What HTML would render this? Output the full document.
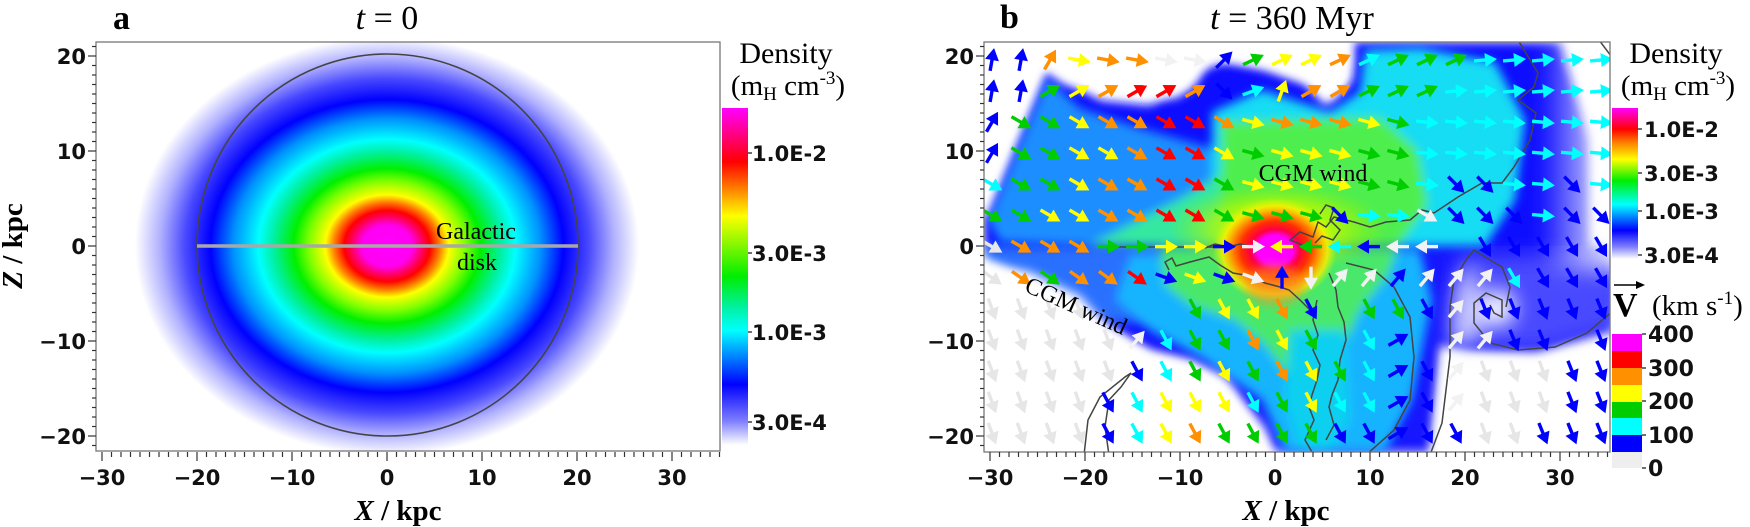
<!DOCTYPE html>
<html><head><meta charset="utf-8">
<style>
html,body{margin:0;padding:0;background:#fff;}
svg{display:block;}
.tl{font-family:"DejaVu Sans","Liberation Sans",sans-serif;font-weight:bold;font-size:21px;fill:#111;}
.sf{font-family:"Liberation Serif",serif;fill:#000;}
</style></head>
<body>
<svg id="s" width="1750" height="527" viewBox="0 0 1750 527" xmlns="http://www.w3.org/2000/svg">
<defs>
 <radialGradient id="ga" gradientUnits="userSpaceOnUse" cx="387" cy="246" r="252" gradientTransform="translate(387 246) scale(1 0.83) translate(-387 -246)">
  <stop offset="0" stop-color="#ff00ff"/><stop offset="0.1" stop-color="#ff00f0"/>
  <stop offset="0.14" stop-color="#ff0060"/><stop offset="0.17" stop-color="#ff0000"/>
  <stop offset="0.21" stop-color="#ff8000"/><stop offset="0.245" stop-color="#ffff00"/>
  <stop offset="0.31" stop-color="#80ff00"/><stop offset="0.37" stop-color="#00f000"/>
  <stop offset="0.45" stop-color="#00f0a0"/><stop offset="0.51" stop-color="#00ffff"/>
  <stop offset="0.61" stop-color="#0090ff"/><stop offset="0.7" stop-color="#0000ff"/>
  <stop offset="0.8" stop-color="#4848ff"/><stop offset="0.9" stop-color="#b0b0ff"/>
  <stop offset="1" stop-color="#ffffff"/>
 </radialGradient>
 <linearGradient id="cba" x1="0" y1="0" x2="0" y2="1">
  <stop offset="0" stop-color="#ff00ff"/><stop offset="0.08" stop-color="#ff0080"/>
  <stop offset="0.16" stop-color="#ff0000"/><stop offset="0.24" stop-color="#ff8000"/>
  <stop offset="0.32" stop-color="#ffff00"/><stop offset="0.5" stop-color="#00ee00"/>
  <stop offset="0.59" stop-color="#00f0a0"/><stop offset="0.66" stop-color="#00ffff"/>
  <stop offset="0.82" stop-color="#0000ff"/><stop offset="0.93" stop-color="#8080ff"/>
  <stop offset="1" stop-color="#ffffff"/>
 </linearGradient>
 <linearGradient id="cbb" x1="0" y1="0" x2="0" y2="1">
  <stop offset="0" stop-color="#ff00ff"/><stop offset="0.14" stop-color="#ff0000"/>
  <stop offset="0.23" stop-color="#ff8000"/><stop offset="0.34" stop-color="#ffff00"/>
  <stop offset="0.48" stop-color="#00ee00"/><stop offset="0.64" stop-color="#00ffff"/>
  <stop offset="0.81" stop-color="#0000ff"/><stop offset="0.92" stop-color="#8080ff"/>
  <stop offset="1" stop-color="#ffffff"/>
 </linearGradient>
 <linearGradient id="fadeR" x1="0" y1="0" x2="1" y2="0">
  <stop offset="0" stop-color="#fff" stop-opacity="0"/><stop offset="0.5" stop-color="#fff" stop-opacity="0.6"/>
  <stop offset="1" stop-color="#fff" stop-opacity="1"/>
 </linearGradient>
 <radialGradient id="core" cx="0.5" cy="0.5" r="0.5">
  <stop offset="0" stop-color="#ff00ff"/><stop offset="0.28" stop-color="#ff00ff"/>
  <stop offset="0.4" stop-color="#ff0040"/><stop offset="0.55" stop-color="#ff3000"/>
  <stop offset="0.7" stop-color="#ff9000"/><stop offset="0.85" stop-color="#ffee00" stop-opacity="0.8"/>
  <stop offset="1" stop-color="#d0ff00" stop-opacity="0"/>
 </radialGradient>
 <radialGradient id="yl" cx="0.5" cy="0.5" r="0.5">
  <stop offset="0" stop-color="#e8ff00"/><stop offset="0.6" stop-color="#b8f800" stop-opacity="0.7"/>
  <stop offset="1" stop-color="#90f000" stop-opacity="0"/>
 </radialGradient>
 <filter id="bl" x="-20%" y="-20%" width="140%" height="140%"><feGaussianBlur stdDeviation="5"/></filter>
 <filter id="bl2" x="-30%" y="-30%" width="160%" height="160%"><feGaussianBlur stdDeviation="10"/></filter>
 <clipPath id="ca"><rect x="96" y="42" width="624" height="409"/></clipPath>
 <clipPath id="cb"><rect x="984" y="42" width="626" height="410"/></clipPath>
</defs>

<!-- Panel a -->
<g clip-path="url(#ca)">
 <rect x="96" y="42" width="624" height="409" fill="url(#ga)"/>
 <ellipse cx="387.5" cy="245" rx="190.5" ry="191" fill="none" stroke="#444" stroke-width="1.6"/>
 <line x1="197" y1="246" x2="578" y2="246" stroke="#a8a8a8" stroke-width="3.5"/>
</g>
<rect x="96" y="42" width="624" height="409" fill="none" stroke="#777" stroke-width="1.3"/>
<text class="sf" x="476" y="239" font-size="24" text-anchor="middle">Galactic</text>
<text class="sf" x="477" y="270" font-size="24" text-anchor="middle">disk</text>

<text class="sf" x="113" y="29" font-size="34" font-weight="bold">a</text>
<text class="sf" x="387" y="29" font-size="34" text-anchor="middle"><tspan font-style="italic">t</tspan> = 0</text>
<text class="sf" x="398" y="520" font-size="29" font-weight="bold" text-anchor="middle"><tspan font-style="italic">X</tspan> / kpc</text>
<text class="sf" transform="translate(22 246) rotate(-90)" font-size="29" font-weight="bold" text-anchor="middle"><tspan font-style="italic">Z</tspan> / kpc</text>

<rect x="722" y="108" width="26" height="337" fill="url(#cba)"/>
<text class="sf" x="786" y="63" font-size="30" text-anchor="middle">Density</text>
<text class="sf" x="788" y="95" font-size="29" text-anchor="middle">(m<tspan font-size="19" dy="5">H</tspan><tspan dy="-5"> cm</tspan><tspan font-size="19" dy="-11">-3</tspan><tspan dy="11">)</tspan></text>
<g class="tl">
 <text x="752" y="161">1.0E-2</text><text x="752" y="261">3.0E-3</text>
 <text x="752" y="340">1.0E-3</text><text x="752" y="430">3.0E-4</text>
</g>
<g stroke="#222" stroke-width="1.3">
 <line x1="748" y1="153" x2="752" y2="153"/><line x1="748" y1="253" x2="752" y2="253"/>
 <line x1="748" y1="332" x2="752" y2="332"/><line x1="748" y1="422" x2="752" y2="422"/>
</g>

<!-- Panel b -->
<g clip-path="url(#cb)">
 <rect x="984" y="42" width="626" height="410" fill="#fff"/>
 <g filter="url(#bl)">
  <polygon points="984,215 1047,66 1100,100 1150,105 1195,80 1210,60 1265,66 1305,80 1330,100 1352,80 1352,42 1560,42 1590,140 1590,250 984,250" fill="#1010ff"/>
  <polygon points="984,246 1610,246 1610,330 1540,352 1470,352 1440,345 1430,452 1270,452 1250,420 1230,390 1190,362 1150,352 1110,330 1060,300 984,258" fill="#1414ff"/>
  <polygon points="984,248 1160,248 1158,316 1112,322 1050,290 984,258" fill="#2a70ff"/>
 </g>
 <g filter="url(#bl2)">
  <polygon points="1460,256 1620,256 1620,330 1540,350 1475,348 1455,330" fill="#4a4aff"/>
 </g>
 <g filter="url(#bl)">
  <polygon points="988,220 1047,78 1080,108 1140,128 1200,145 1222,150 1222,240 1090,246 1000,242" fill="#1e8eff"/>
  <polygon points="1212,112 1262,90 1330,112 1360,92 1365,50 1420,48 1495,62 1525,120 1515,200 1485,246 1212,246" fill="#18dcf4"/>
  <polygon points="1221,122 1380,117 1418,150 1428,205 1398,246 1100,246 1221,175" fill="#50ee50"/>
  <polygon points="1088,246 1221,178 1221,246" fill="#36e8a0"/>
  <polygon points="1130,255 1420,250 1432,300 1412,400 1385,452 1285,452 1262,400 1205,360 1150,330 1115,300" fill="#18b4ff"/>
  <polygon points="1160,248 1398,248 1388,275 1360,310 1345,345 1320,380 1295,385 1265,345 1235,320 1190,305 1165,285" fill="#48e86a"/>
  <polygon points="1290,330 1345,330 1350,420 1330,452 1300,452 1285,400" fill="#10d0f0"/>
 </g>
 <rect x="1540" y="20" width="90" height="250" fill="url(#fadeR)" filter="url(#bl2)"/>
 <g filter="url(#bl)" fill="#fff">
  <polygon points="975,35 1352,35 1352,62 1345,86 1326,106 1306,84 1266,70 1226,60 1202,70 1192,88 1176,98 1145,98 1105,94 1064,84 1044,70 986,214 975,214"/>
  <polygon points="975,260 1030,272 1080,296 1108,326 1150,352 1192,362 1225,377 1242,400 1265,428 1278,460 975,460"/>
  <polygon points="1445,352 1535,356 1615,335 1615,460 1432,460"/>
 </g>
 <g filter="url(#bl2)" fill="#fff">
  <polygon points="1590,35 1620,35 1620,250 1605,240"/>
  <ellipse cx="1499" cy="308" rx="16" ry="18" fill="#ffffff"/>
  <polygon points="1470,260 1490,320 1470,345 1450,345 1455,290" fill="#c8c8ff"/>
 </g>
 <ellipse cx="1278" cy="228" rx="110" ry="45" fill="url(#yl)"/>
 <ellipse cx="1275" cy="250" rx="62" ry="52" fill="url(#core)"/>
 <ellipse cx="1275" cy="285" rx="30" ry="20" fill="#ff9020" opacity="0.6" filter="url(#bl)"/>
 <g id="cont" fill="none" stroke="#444" stroke-width="1.5"></g>
 <g id="arr"></g>
</g>
<rect x="984" y="42" width="626" height="410" fill="none" stroke="#777" stroke-width="1.3"/>
<text class="sf" x="1313" y="181" font-size="24" text-anchor="middle">CGM wind</text>
<text class="sf" transform="translate(1073 313) rotate(24)" font-size="24" text-anchor="middle">CGM wind</text>

<text class="sf" x="1000" y="28" font-size="34" font-weight="bold">b</text>
<text class="sf" x="1292" y="29" font-size="34" text-anchor="middle"><tspan font-style="italic">t</tspan> = 360 Myr</text>
<text class="sf" x="1286" y="520" font-size="29" font-weight="bold" text-anchor="middle"><tspan font-style="italic">X</tspan> / kpc</text>

<rect x="1612" y="108" width="26" height="151" fill="url(#cbb)"/>
<text class="sf" x="1676" y="63" font-size="30" text-anchor="middle">Density</text>
<text class="sf" x="1678" y="95" font-size="29" text-anchor="middle">(m<tspan font-size="19" dy="5">H</tspan><tspan dy="-5"> cm</tspan><tspan font-size="19" dy="-11">-3</tspan><tspan dy="11">)</tspan></text>
<g class="tl">
 <text x="1644" y="137">1.0E-2</text><text x="1644" y="181">3.0E-3</text>
 <text x="1644" y="219">1.0E-3</text><text x="1644" y="263">3.0E-4</text>
</g>
<g stroke="#222" stroke-width="1.3">
 <line x1="1638" y1="129" x2="1642" y2="129"/><line x1="1638" y1="173" x2="1642" y2="173"/>
 <line x1="1638" y1="211" x2="1642" y2="211"/><line x1="1638" y1="255" x2="1642" y2="255"/>
</g>
<line x1="1614" y1="285" x2="1640" y2="285" stroke="#000" stroke-width="1.5"/>
<polygon points="1645,285 1636,281 1636,289" fill="#000"/>
<text class="sf" x="1613" y="316" font-size="34" font-weight="bold">V</text>
<text class="sf" x="1652" y="315" font-size="29">(km s<tspan font-size="19" dy="-11">-1</tspan><tspan dy="11">)</tspan></text>
<rect x="1612" y="334" width="30" height="17" fill="#ff00ff"/>
<rect x="1612" y="351" width="30" height="17" fill="#ff0000"/>
<rect x="1612" y="368" width="30" height="17" fill="#ff9000"/>
<rect x="1612" y="385" width="30" height="17" fill="#ffff00"/>
<rect x="1612" y="402" width="30" height="16" fill="#00cc00"/>
<rect x="1612" y="418" width="30" height="17" fill="#00ffff"/>
<rect x="1612" y="435" width="30" height="17" fill="#0000ff"/>
<rect x="1612" y="452" width="30" height="16" fill="#eeeeee"/>
<g class="tl">
 <text x="1648" y="342" style="font-size:22px">400</text><text x="1648" y="376" style="font-size:22px">300</text>
 <text x="1648" y="409" style="font-size:22px">200</text><text x="1648" y="443" style="font-size:22px">100</text>
 <text x="1648" y="476" style="font-size:22px">0</text>
</g>
<g stroke="#222" stroke-width="1.3">
 <line x1="1642" y1="334" x2="1646" y2="334"/><line x1="1642" y1="368" x2="1646" y2="368"/>
 <line x1="1642" y1="401" x2="1646" y2="401"/><line x1="1642" y1="435" x2="1646" y2="435"/>
 <line x1="1642" y1="468" x2="1646" y2="468"/>
</g>
<g id="ticks" stroke="#333" stroke-width="1.2"></g>
<g id="tlab" class="tl"></g>
</svg>
<script>
var NS="http://www.w3.org/2000/svg";
function el(t,a,p){var e=document.createElementNS(NS,t);for(var k in a)e.setAttribute(k,a[k]);(p||document.getElementById('s')).appendChild(e);return e;}
var tk=document.getElementById('ticks'),tl=document.getElementById('tlab');
function axes(x0,left){
 var s=9.5,z0=246;
 for(var v=-30;v<=35;v++){var x=x0+v*s;var maj=(v%10==0);
  el('line',{x1:x,y1:452,x2:x,y2:maj?461:457},tk);
  if(maj){var t=el('text',{x:x,y:485,'text-anchor':'middle'},tl);t.textContent=(v<0?'\u2212':'')+Math.abs(v);}}
 for(var v=-21;v<=21;v++){var y=z0-v*s;var maj=(v%10==0);
  el('line',{x1:left,y1:y,x2:left-(maj?8:4),y2:y},tk);
  if(maj){var t=el('text',{x:left-10,y:y+8,'text-anchor':'end'},tl);t.textContent=(v<0?'\u2212':'')+Math.abs(v);}}
}
axes(387,96);axes(1275,984);
var rows=["BBOYOOWWBGYYOCGGGCCCCC","BBGYORROBCYOOGGGCCCCCC","BGGYOORROYOOOYGCCCCCCC","BGGYYORRYGYYYGGCCCCCCC","CGGYOORRGYYYYGGCBBCCBC","GGYYOORRGGGGBCCWBBBCBB","gOOOGGYYBWYGCBWW.BBBBB","gOGOORBYBWBWWWBWWWCBBB","gggg...GYYOB.GGBWBBBBB","gggggWCGGOYG.CB.WWBB.B","gggggBCGYGOYGCBBWgggBB","ggggBCYYYCGYCCBBWgggBB","ggggBCYOGGGGBBBBBggBBB"];
var col={B:"#0000ff",C:"#00ffff",G:"#00cc00",Y:"#ffff00",O:"#ff9000",R:"#ff0000",W:"#f2f2f2",g:"#e6e6e6"};
function ang(r,c,ch){
 if(r<=1&&c<=1)return -80;
 if(r<=3&&c==0)return -60;
 if(r==0){if(c==2)return -60;if(c<=7)return 10;if(c==8)return -45;if(c<=16)return -25;return -5;}
 if(r==1){if(c==8)return 45;if(c==9)return -20;if(c==10)return -70;if(c<=12)return -30;if(c<=15)return -25;return -5;}
 if(r<=5){if(c<=8)return 30;if(ch=='B')return 45;if(ch=='C')return 5;if(ch=='W')return 30;return 15;}
 if(r==6){if(c<=3)return 30;if(c<=9)return 0;if(c<=15)return 180;return 60;}
 if(r==7){if(c<=5)return 35;if(c<=9)return 20;if(c==10)return -90;if(c==11)return 90;if(c<=17)return -50;return 60;}
 if(ch=='g')return 70;
 if(c==14&&ch=='B')return -30;
 if(ch=='W')return -50;
 if(c>=17)return 68;
 return 62;
}
var ar=document.getElementById('arr');
for(var r=0;r<13;r++)for(var c=0;c<22;c++){var ch=rows[r][c];if(!ch||ch=='.')continue;
 var x=992+29*c,y=60+31.1*r,a=ang(r,c,ch);
 var g=el('g',{transform:'translate('+x+' '+y+') rotate('+a+')'},ar);
 el('rect',{x:-11,y:-1.7,width:13,height:3.4,fill:col[ch]},g);
 el('polygon',{points:'0,-7 12,0 0,7',fill:col[ch]},g);}
var cs=[
 "1518,40 1538,73 1534,87 1518,100 1536,113 1530,140 1514,167 1502,183 1482,183 1458,197 1434,213 1422,210 1410,220 1386,222 1370,227 1354,222 1334,217 1326,227 1318,222 1313,237 1300,232 1290,240 1305,246",
 "1599,40 1614,60",
 "1474,250 1466,260 1454,280 1450,307 1450,357 1446,390 1442,423 1430,455",
 "1474,250 1490,260 1502,267 1510,287 1506,307",
 "1614,310 1587,333 1555,347 1518,350 1490,343 1474,323 1474,303 1486,293 1502,300 1502,317 1494,313 1490,305",
 "1346,263 1374,270 1394,287 1410,317 1414,357 1410,400 1394,430 1366,455",
 "1084,455 1088,420 1100,397 1125,377 1131,373 1121,387 1109,400 1105,427 1109,455",
 "1317,300 1313,320 1318,335 1313,350 1320,365 1317,380 1312,395 1309,407 1314,420 1305,440 1312,452",
 "1329,273 1336,290 1338,307 1344,322 1346,340 1340,360 1338,380 1332,395 1329,407 1334,425 1326,440",
 "1169,270 1165,262 1172,258 1176,266 1190,262 1209,257 1220,265 1233,273 1250,276 1265,283 1280,287 1289,290 1300,300 1310,310",
 "1205,248 1215,244 1228,247 1240,244 1250,246",
 "1320,214 1326,205 1334,208 1330,220 1340,230 1333,240 1322,236 1315,243",
 "1110,247 1230,247"
];
var cg=document.getElementById('cont');
cs.forEach(function(p){el('polyline',{points:p},cg);});
</script>
</body></html>
